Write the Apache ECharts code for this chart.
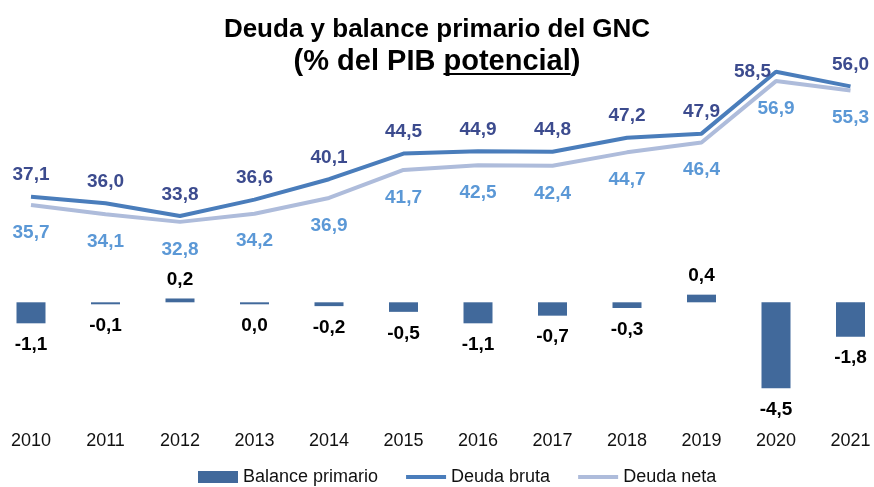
<!DOCTYPE html>
<html>
<head>
<meta charset="utf-8">
<script src="https://cdn.jsdelivr.net/npm/echarts@6/dist/echarts.min.js"></script>
<style>
  html, body { margin: 0; padding: 0; background: #fff; }
  #chart { width: 874px; height: 487px; }
</style>
</head>
<body>
<div id="chart"></div>
<script>
// datos
var years = ['2010', '2011', '2012', '2013', '2014', '2015', '2016', '2017', '2018', '2019', '2020', '2021'];
var deudaBruta = [37.1, 36.0, 33.8, 36.6, 40.1, 44.5, 44.9, 44.8, 47.2, 47.9, 58.5, 56.0];
var deudaNeta = [35.7, 34.1, 32.8, 34.2, 36.9, 41.7, 42.5, 42.4, 44.7, 46.4, 56.9, 55.3];
var balance = [-1.1, -0.1, 0.2, -0.04, -0.2, -0.5, -1.1, -0.7, -0.3, 0.4, -4.5, -1.8];

var FONT = 'Liberation Sans, Arial, sans-serif';

var fmt = function (v) {
  if (Math.abs(v) < 0.05) v = 0;
  return v.toFixed(1).replace('.', ',');
};

// subrayado de "potencial": se mide el texto para colocarlo
var ctx = document.createElement('canvas').getContext('2d');
ctx.font = 'bold 29px "Liberation Sans"';
var l2 = '(% del PIB potencial)';
var x0 = 437 - ctx.measureText(l2).width / 2 + ctx.measureText('(% del PIB ').width;
var x1 = x0 + ctx.measureText('potencial').width;

var myChart = echarts.init(document.getElementById('chart'));

var lineLabel = function (color, pos, dist) {
  return {
    show: true,
    position: pos,
    distance: dist,
    color: color,
    fontSize: 19,
    fontWeight: 'bold',
    formatter: function (p) { return fmt(p.value); }
  };
};

var option = {
  animation: false,
  backgroundColor: '#fff',
  textStyle: { fontFamily: FONT },
  title: {
    text: '{a|Deuda y balance primario del GNC}\n{b|(% del PIB potencial)}',
    left: 'center',
    top: 10,
    textStyle: {
      rich: {
        a: { fontSize: 26, fontWeight: 'bold', color: '#000', lineHeight: 30, fontFamily: FONT },
        b: { fontSize: 29, fontWeight: 'bold', color: '#000', lineHeight: 34, fontFamily: FONT }
      }
    }
  },
  graphic: [{
    type: 'line',
    shape: { x1: x0, y1: 74, x2: x1, y2: 74 },
    style: { stroke: '#000', lineWidth: 2 }
  }],
  legend: {
    top: 463,
    left: 193,
    itemWidth: 40,
    itemHeight: 12,
    itemGap: 26,
    textStyle: { fontSize: 18, color: '#111' },
    data: [
      { name: 'Balance primario', icon: 'rect' },
      { name: 'Deuda bruta', itemStyle: { opacity: 0 }, lineStyle: { width: 4 } },
      { name: 'Deuda neta', itemStyle: { opacity: 0 }, lineStyle: { width: 4 } }
    ]
  },
  grid: { left: 31, right: 23.5, top: 60, bottom: 65 },
  xAxis: {
    type: 'category',
    data: years,
    boundaryGap: false,
    axisLine: { show: false },
    axisTick: { show: false },
    splitLine: { show: false },
    axisLabel: { color: '#111', fontSize: 18, margin: 10 }
  },
  yAxis: [
    { type: 'value', min: -1.46, max: 60.51, show: false, splitLine: { show: false } },
    { type: 'value', min: -6.267, max: 12.686, show: false, splitLine: { show: false } }
  ],
  series: [
    {
      name: 'Balance primario',
      type: 'bar',
      yAxisIndex: 1,
      barWidth: 29,
      barMinHeight: 2,
      clip: false,
      itemStyle: { color: '#41699b' },
      data: balance.map(function (v) {
        return {
          value: v,
          label: { position: v < 0 ? 'bottom' : 'top', distance: v < 0 ? 12 : 9 }
        };
      }),
      label: {
        show: true,
        color: '#000',
        fontSize: 19,
        fontWeight: 'bold',
        formatter: function (p) { return fmt(p.value); }
      }
    },
    {
      name: 'Deuda neta',
      type: 'line',
      symbol: 'circle',
      symbolSize: 0.01,
      lineStyle: { color: '#aebcdb', width: 4 },
      itemStyle: { color: '#aebcdb' },
      data: deudaNeta,
      label: lineLabel('#5b98d6', 'bottom', 18)
    },
    {
      name: 'Deuda bruta',
      type: 'line',
      symbol: 'circle',
      symbolSize: 0.01,
      lineStyle: { color: '#4a7dbb', width: 4 },
      itemStyle: { color: '#4a7dbb' },
      data: deudaBruta.map(function (v, i) {
        return i === 10 ? { value: v, label: { position: 'left', distance: 5 } } : v;
      }),
      label: lineLabel('#3c4b8e', 'top', 12)
    }
  ]
};

myChart.setOption(option);
</script>
</body>
</html>
